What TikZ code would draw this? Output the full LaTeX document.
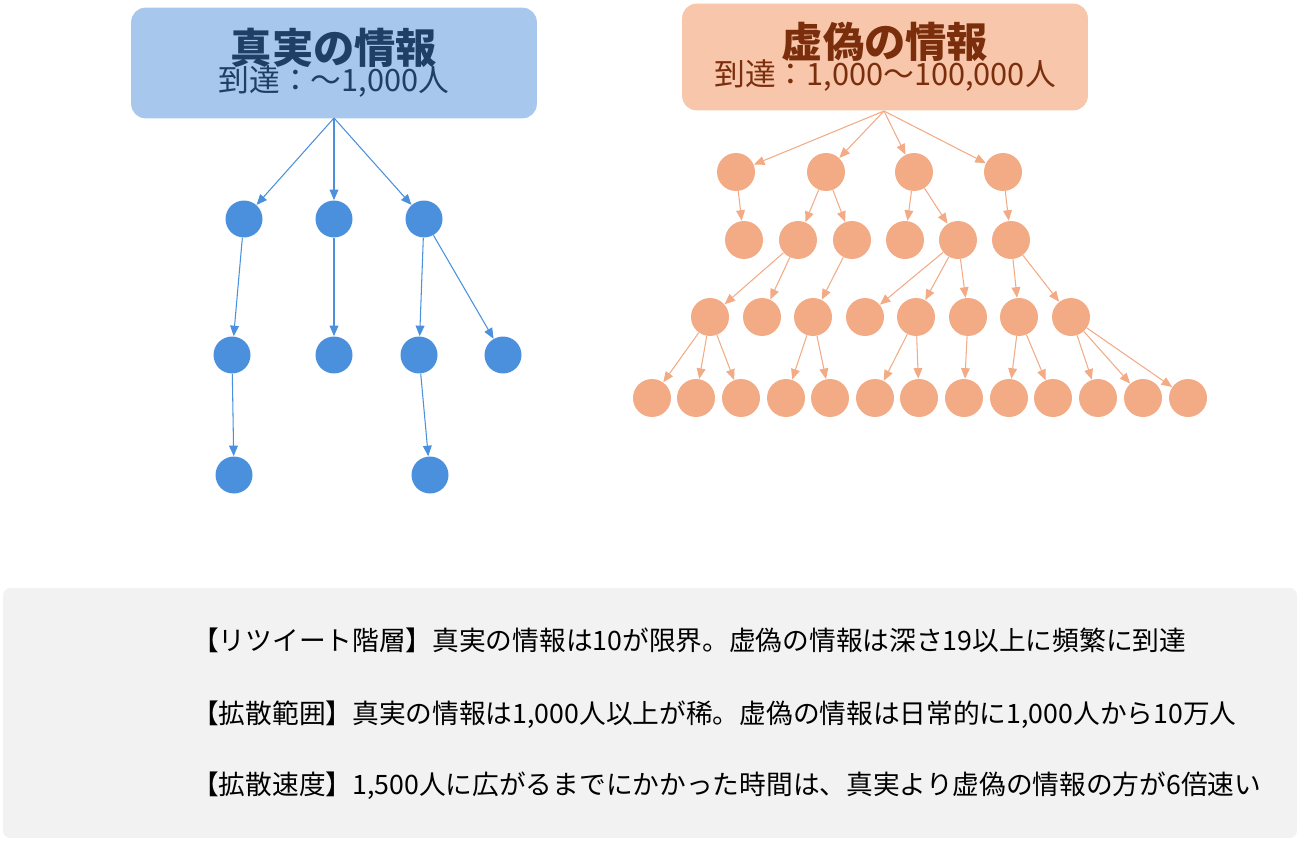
\documentclass[tikz,border=0pt]{standalone}
\usepackage{fontspec}
\setmainfont{Noto Sans CJK JP}
\usetikzlibrary{arrows.meta}
\definecolor{bluebox}{HTML}{A7C8EC}
\definecolor{bluetext}{HTML}{1F3F66}
\definecolor{bluedot}{HTML}{4A90DC}
\definecolor{orangebox}{HTML}{F7C6AB}
\definecolor{orangetext}{HTML}{7A2E0C}
\definecolor{orangedot}{HTML}{F2AB85}
\definecolor{panel}{HTML}{F2F2F2}

\begin{document}
\begin{tikzpicture}[
    x=0.02cm, y=-0.02cm,
    titlebox/.style={
        draw,
        rounded corners=8pt,
        text centered,
        align=center,
        inner sep=0pt,
    },
    bdot/.style={circle, fill=bluedot, minimum size=0.74cm, inner sep=0pt},
    odot/.style={circle, fill=orangedot, minimum size=0.76cm, inner sep=0pt},
    barrow/.style={draw=bluedot, line width=0.6pt, -{Triangle[length=6pt,width=5pt]}},
    oarrow/.style={draw=orangedot, line width=0.6pt, -{Triangle[length=6pt,width=5pt]}},
    note/.style={anchor=west, font=\fontsize{15.2}{18}\selectfont}
]
\useasboundingbox (0,0) rectangle (1300,841);

% title boxes
\node[titlebox, draw=bluebox, fill=bluebox, minimum width=8.1cm, minimum height=2.2cm] (truebox) at (334,63)
    {\textcolor{bluetext}{\fontsize{23.5}{26}\selectfont\bfseries 真実の情報}\\[-2pt]
     \textcolor{bluetext}{\fontsize{17.5}{20}\selectfont 到達：〜1,000人}};
\node[titlebox, draw=orangebox, fill=orangebox, minimum width=8.1cm, minimum height=2.12cm] (falsebox) at (885,57)
    {\textcolor{orangetext}{\fontsize{23.5}{26}\selectfont\bfseries 虚偽の情報}\\[-2pt]
     \textcolor{orangetext}{\fontsize{17.5}{20}\selectfont 到達：1,000〜100,000人}};
\coordinate (troot) at (334,118);
\coordinate (froot) at (884,111);

% true tree
\foreach \n/\x/\y in {t1/244/219, t2/334/219, t3/424/219,
                      t4/232/355, t5/334/355, t6/419/355, t7/503/355,
                      t8/234/475, t9/430/475}
    \node[bdot] (\n) at (\x,\y) {};
\foreach \a/\b in {troot/t1, troot/t2, troot/t3, t1/t4, t2/t5, t3/t6, t3/t7, t4/t8, t6/t9}
    \draw[barrow] (\a) -- (\b);

% false tree
\foreach \n/\x in {f1/736, f2/826, f3/914, f4/1003}
    \node[odot] (\n) at (\x,172) {};
\foreach \n/\x in {g1/744, g2/798, g3/852, g4/905, g5/958, g6/1011}
    \node[odot] (\n) at (\x,240) {};
\foreach \n/\x in {h1/710, h2/762, h3/813, h4/865, h5/916, h6/968, h7/1019, h8/1071}
    \node[odot] (\n) at (\x,317) {};
\foreach \i/\x in {1/652, 2/696, 3/741, 4/786, 5/830, 6/875, 7/919, 8/964, 9/1009, 10/1053, 11/1098, 12/1143, 13/1188}
    \node[odot] (k\i) at (\x,398) {};
\foreach \a/\b in {froot/f1, froot/f2, froot/f3, froot/f4,
                   f1/g1, f2/g2, f2/g3, f3/g4, f3/g5, f4/g6,
                   g2/h1, g2/h2, g3/h3, g5/h4, g5/h5, g5/h6, g6/h7, g6/h8,
                   h1/k1, h1/k2, h1/k3, h3/k4, h3/k5, h5/k6, h5/k7, h6/k8,
                   h7/k9, h7/k10, h8/k11, h8/k12, h8/k13}
    \draw[oarrow] (\a) -- (\b);

% summary panel
\node[fill=panel, rounded corners=4pt, minimum width=25.88cm, minimum height=5cm, inner sep=0pt] (panelbox) at (650,713) {};
\node[note] (line1) at (186,640) {【リツイート階層】真実の情報は10が限界。虚偽の情報は深さ19以上に頻繁に到達};
\node[note] (line2) at (186,715) {【拡散範囲】真実の情報は1,000人以上が稀。虚偽の情報は日常的に1,000人から10万人};
\node[note] (line3) at (186,786) {【拡散速度】1,500人に広がるまでにかかった時間は、真実より虚偽の情報の方が6倍速い};
\end{tikzpicture}
\end{document}
